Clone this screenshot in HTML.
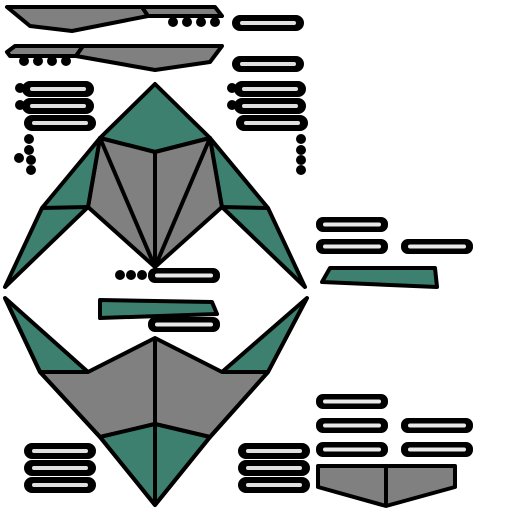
<!DOCTYPE html>
<html><head><style>body{margin:0;background:#fff}svg{display:block}</style></head>
<body>
<svg width="512" height="512" viewBox="0 0 512 512" stroke="#000" stroke-width="4" stroke-linejoin="round">
<defs>
<g id="pill"><rect x="0" y="0" width="68" height="12" rx="6" fill="#000"/><rect x="6" y="4" width="56" height="4" rx="2" fill="#e0e0e0" stroke="none"/></g>
<g id="pill2"><rect x="0" y="0" width="68" height="11" rx="5" fill="#000"/><rect x="5" y="3.5" width="58" height="4" rx="2" fill="#e8e8e8" stroke="none"/></g>
</defs>
<g fill="#808080">
<polygon points="7,7 142,7 148,16 72,31 30,26"/>
<polygon points="142,7 215,7 222,16 148,16"/>
<polygon points="7,52 15,46 83,46 76,56 10,56"/>
<polygon points="83,46 222,46 210,62 155,70 76,56"/>
</g>
<g fill="#000" stroke="none">
<circle cx="173" cy="22" r="5"/><circle cx="187" cy="22" r="5"/><circle cx="201" cy="22" r="5"/><circle cx="215" cy="22" r="5"/>
<circle cx="24" cy="61" r="5"/><circle cx="38" cy="61" r="5"/><circle cx="52" cy="61" r="5"/><circle cx="66" cy="61" r="5"/>
<circle cx="20" cy="88" r="5"/><circle cx="20" cy="105" r="5"/><circle cx="29" cy="139" r="5"/><circle cx="29" cy="150" r="5"/><circle cx="19" cy="158" r="5"/><circle cx="31" cy="170" r="5"/><circle cx="31" cy="160" r="5"/>
<circle cx="232" cy="88" r="5"/><circle cx="232" cy="105" r="5"/><circle cx="301" cy="139" r="5"/><circle cx="301" cy="150" r="5"/><circle cx="301" cy="160" r="5"/><circle cx="301" cy="170" r="5"/>
<circle cx="120" cy="275" r="5"/><circle cx="131" cy="275" r="5"/><circle cx="142" cy="275" r="5"/>
</g>
<g>
<use href="#pill" x="234" y="17"/><use href="#pill" x="234" y="58"/>
<use href="#pill" x="24" y="83"/><use href="#pill" x="24" y="100"/><use href="#pill" x="26" y="117"/>
<use href="#pill" x="236" y="83"/><use href="#pill" x="236" y="100"/><use href="#pill" x="238" y="117"/>
<use href="#pill2" x="150" y="270"/><use href="#pill2" x="150" y="319"/>
<use href="#pill2" x="318" y="219"/><use href="#pill2" x="318" y="241"/><use href="#pill2" x="403" y="241"/>
<use href="#pill2" x="318" y="396"/><use href="#pill2" x="318" y="420"/><use href="#pill2" x="403" y="420"/><use href="#pill2" x="318" y="444"/><use href="#pill2" x="403" y="444"/>
<use href="#pill" x="26" y="445"/><use href="#pill" x="26" y="462"/><use href="#pill" x="26" y="479"/>
<use href="#pill" x="240" y="445"/><use href="#pill" x="240" y="462"/><use href="#pill" x="240" y="479"/>
</g>
<g>
<polygon points="155,84 210,138 155,152 100,138" fill="#3d8070"/>
<polygon points="100,138 155,152 210,138 222,207 155,267 88,207" fill="#808080"/>
<polygon points="100,138 42,208 5,287 88,207" fill="#3d8070"/>
<polygon points="210,138 268,208 305,287 222,207" fill="#3d8070"/>
<line x1="42" y1="208" x2="88" y2="207"/><line x1="268" y1="208" x2="222" y2="207"/>
<line x1="155" y1="152" x2="155" y2="267"/><line x1="100" y1="138" x2="155" y2="267"/><line x1="210" y1="138" x2="155" y2="267"/>
</g>
<g fill="#3d8070">
<polygon points="100,300 212,302 217,314 100,318"/>
<polygon points="322,282 330,268 435,268 437,287"/>
</g>
<g>
<polygon points="5,298 88,372 40,372" fill="#3d8070"/>
<polygon points="307,298 222,372 268,372" fill="#3d8070"/>
<polygon points="40,372 88,372 155,338 222,372 268,372 210,437 155,424 100,437" fill="#808080"/>
<polygon points="100,437 155,424 210,437 155,505" fill="#3d8070"/>
<polyline points="5,298 40,372 100,437 155,505 210,437 268,372 307,298" fill="none"/>
<line x1="155" y1="338" x2="155" y2="505"/>
</g>
<g fill="#808080">
<polygon points="318,466 455,466 455,487 386,506 318,487"/>
<line x1="386" y1="466" x2="386" y2="506"/>
</g>
</svg>
</body></html>
